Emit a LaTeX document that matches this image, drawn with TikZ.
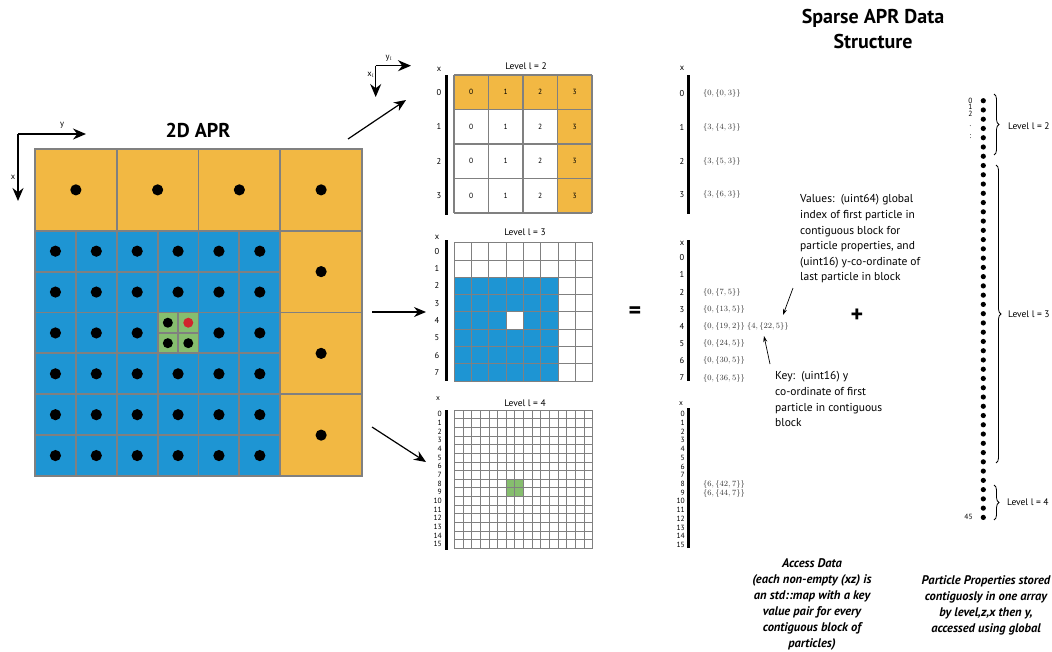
\documentclass[tikz,border=0pt]{standalone}
\usepackage[no-math]{fontspec}
\setmainfont{PT Sans}
\usetikzlibrary{arrows.meta,decorations.pathreplacing}

\begin{document}
\begin{tikzpicture}[x=1pt,y=-1pt,
    axisarrow/.style={line width=1.4pt, -{Stealth[length=13pt,width=11pt]}},
    linkarrow/.style={line width=1.2pt, -{Stealth[length=12pt,width=10pt]}},
    notearrow/.style={line width=0.7pt, -{Stealth[length=6pt,width=4pt]}},
    rowlab/.style={font=\fontsize{8.5}{9}\selectfont, inner sep=0pt},
    tinylab/.style={font=\fontsize{7.5}{8}\selectfont, inner sep=0pt},
    cellnum/.style={font=\fontsize{7.5}{8}\selectfont, inner sep=0pt},
    lvltitle/.style={font=\fontsize{9.5}{10}\selectfont, inner sep=0pt},
    entry/.style={anchor=west, inner sep=0pt, font=\fontsize{8.5}{9}\selectfont, text=black!80},
    accessbar/.style={line width=3pt},
    explain/.style={align=left, anchor=north west, inner sep=0pt, font=\fontsize{11.5}{15.6}\selectfont},
    caption/.style={align=center, anchor=north, inner sep=0pt, font=\fontsize{12.5}{16}\selectfont\bfseries\itshape},
    heading/.style={font=\fontsize{20}{25}\selectfont\bfseries, inner sep=0pt, align=center},
    bigsign/.style={font=\fontsize{24}{24}\selectfont\bfseries, inner sep=0pt}]
    % Define colors
    \definecolor{aprorange}{RGB}{242,184,67}
    \definecolor{aprblue}{RGB}{30,149,211}
    \definecolor{aprgreen}{RGB}{134,190,110}
    \definecolor{aprred}{RGB}{208,38,46}
    \definecolor{gridgray}{RGB}{128,128,128}

    \useasboundingbox (0,0) rectangle (1052,651);

    % Axes of the 2D APR
    \coordinate (axO) at (18,134);
    \coordinate (axY) at (86,134);
    \coordinate (axX) at (18,201);
    \draw[axisarrow] (axO) -- (axY);
    \draw[axisarrow] (axO) -- (axX);
    \node[rowlab] (axYlab) at (62,125) {y};
    \node[rowlab] (axXlab) at (13,177) {x};

    \node[heading] (aprtitle) at (198,130) {2D APR};

    % Fill the 2D APR cells
    \fill[aprorange] (35,149) rectangle (362,476);
    \fill[aprblue] (35,230.75) rectangle (280.25,476);
    \foreach \i in {0,...,5}
        \foreach \j in {2,...,7}
            \fill ({35+40.875*(\i+0.5)},{149+40.875*(\j+0.5)}) circle (5.6);
    \fill[aprgreen] (157.625,312.5) rectangle (198.5,353.375);

    % Particles of the orange cells
    \foreach \i in {0,...,3}
        \fill ({35+81.75*(\i+0.5)},189.875) circle (5.6);
    \foreach \j in {1,2,3}
        \fill (321.125,{149+81.75*(\j+0.5)}) circle (5.6);

    % Particles of the green cells
    \fill (167.84,322.72) circle (5);
    \fill[aprred] (188.28,322.72) circle (5);
    \fill (167.84,343.16) circle (5);
    \fill (188.28,343.16) circle (5);

    % Grid lines
    \draw[gridgray, line width=1.8pt] (35,149) rectangle (362,476);
    \draw[gridgray, line width=1.8pt] (35,230.75) -- (362,230.75);
    \draw[gridgray, line width=1.8pt] (280.25,149) -- (280.25,476);
    \draw[gridgray, line width=1.8pt] (116.75,149) -- (116.75,230.75);
    \draw[gridgray, line width=1.8pt] (198.5,149) -- (198.5,230.75);
    \foreach \i in {1,...,5}
        \draw[gridgray, line width=1.8pt] ({35+40.875*\i},230.75) -- ({35+40.875*\i},476);
    \foreach \j in {3,5,7}
        \draw[gridgray, line width=1.8pt] (35,{149+40.875*\j}) -- (280.25,{149+40.875*\j});
    \foreach \j in {4,6}
        \draw[gridgray, line width=1.8pt] (35,{149+40.875*\j}) -- (362,{149+40.875*\j});
    \draw[gridgray, line width=1.3pt] (178.06,312.5) -- (178.06,353.375);
    \draw[gridgray, line width=1.3pt] (157.625,332.94) -- (198.5,332.94);

    % Axes of one level
    \coordinate (lvO) at (375.7,65.7);
    \coordinate (lvY) at (411,65.7);
    \coordinate (lvX) at (375.7,97);
    \draw[axisarrow] (lvO) -- (lvY);
    \draw[axisarrow] (lvO) -- (lvX);
    \node[rowlab] (lvYlab) at (389,58) {y$_{\scriptscriptstyle l}$};
    \node[rowlab] (lvXlab) at (371,75) {x$_{\scriptscriptstyle l}$};

    % Connectors to the levels
    \coordinate (aprTop) at (348,139);
    \coordinate (aprMid) at (372,312);
    \coordinate (aprLow) at (372,427);
    \coordinate (lvtwoIn) at (406,100);
    \coordinate (lvthreeIn) at (426,312);
    \coordinate (lvfourIn) at (426,462);
    \draw[linkarrow] (aprTop) -- (lvtwoIn);
    \draw[linkarrow] (aprMid) -- (lvthreeIn);
    \draw[linkarrow] (aprLow) -- (lvfourIn);

    % Level l = 2
    \node[lvltitle] (lvtwo) at (526,66) {Level l = 2};
    \fill[aprorange] (454,75) rectangle (592,109.5);
    \fill[aprorange] (557.5,75) rectangle (592,213);
    \foreach \i in {0,...,4} {
        \draw[gridgray, line width=1.2pt] ({454+34.5*\i},75) -- ({454+34.5*\i},213);
        \draw[gridgray, line width=1.2pt] (454,{75+34.5*\i}) -- (592,{75+34.5*\i});
    }
    \foreach \r in {0,...,3} {
        \foreach \c in {0,...,3}
            \node[cellnum] (lvtwo-\r-\c) at ({471.25+34.5*\c},{92.25+34.5*\r}) {\c};
        \node[rowlab] (lvtwo-x\r) at (439,{92.25+34.5*\r}) {\r};
    }
    \node[rowlab] (lvtwo-x) at (439,69) {x};
    \draw[accessbar] (446.5,75) -- (446.5,215);

    % Level l = 3
    \node[lvltitle] (lvthree) at (525,232) {Level l = 3};
    \fill[aprblue] (454.3,277.3) rectangle (558.1,380.7);
    \fill[white] (506.2,311.9) rectangle (523.5,329.2);
    \foreach \i in {0,...,8} {
        \draw[gridgray, line width=1pt] ({454.3+17.3*\i},242.7) -- ({454.3+17.3*\i},381.1);
        \draw[gridgray, line width=1pt] (454.3,{242.7+17.3*\i}) -- (592.7,{242.7+17.3*\i});
    }
    \foreach \r in {0,...,7}
        \node[rowlab] (lvthree-x\r) at (437,{251.35+17.3*\r}) {\r};
    \node[rowlab] (lvthree-x) at (437,237.5) {x};
    \draw[accessbar] (446,240) -- (446,381);

    % Level l = 4
    \node[lvltitle] (lvfour) at (525,403) {Level l = 4};
    \fill[aprgreen] (506.2,479.2) rectangle (523.5,496.5);
    \foreach \i in {0,...,16} {
        \draw[gridgray, line width=0.8pt] ({454.3+8.65*\i},410) -- ({454.3+8.65*\i},548.4);
        \draw[gridgray, line width=0.8pt] (454.3,{410+8.65*\i}) -- (592.7,{410+8.65*\i});
    }
    \foreach \r in {0,...,15}
        \node[tinylab, anchor=east] (lvfour-x\r) at (442,{414.3+8.65*\r}) {\r};
    \node[tinylab] (lvfour-x) at (438,399) {x};
    \draw[accessbar] (446,410) -- (446,550);

    \node[bigsign] (equals) at (635,313) {=};

    % Access data, level l = 2
    \node[rowlab] (accA-x) at (682,68) {x};
    \draw[accessbar] (688.3,75) -- (688.3,214);
    \foreach \r/\val in {0/{0,\{0,3\}},1/{3,\{4,3\}},2/{3,\{5,3\}},3/{3,\{6,3\}}} {
        \node[rowlab] (accA-x\r) at (682,{93.5+33.8*\r}) {\r};
        \node[entry] (accA-e\r) at (703,{93.5+33.8*\r}) {$\{\val\}$};
    }

    % Access data, level l = 3
    \node[rowlab] (accB-x) at (682,243) {x};
    \draw[accessbar] (688.3,240) -- (688.3,381);
    \foreach \r in {0,...,7}
        \node[rowlab] (accB-x\r) at (682,{257.6+17.2*\r}) {\r};
    \node[entry] (accB-e2) at (703,292) {$\{0,\{7,5\}\}$};
    \node[entry] (accB-e3) at (703,309.2) {$\{0,\{13,5\}\}$};
    \node[entry] (accB-e4) at (703,326.4) {$\{0,\{19,2\}\}\ \{4,\{22,5\}\}$};
    \node[entry] (accB-e5) at (703,343.6) {$\{0,\{24,5\}\}$};
    \node[entry] (accB-e6) at (703,360.8) {$\{0,\{30,5\}\}$};
    \node[entry] (accB-e7) at (703,378) {$\{0,\{36,5\}\}$};

    % Access data, level l = 4
    \node[tinylab] (accC-x) at (681,404) {x};
    \draw[accessbar] (688.3,408) -- (688.3,548);
    \foreach \r in {0,...,15}
        \node[tinylab, anchor=east] (accC-x\r) at (685,{414+8.73*\r}) {\r};
    \node[entry] (accC-e8) at (703,484.8) {$\{6,\{42,7\}\}$};
    \node[entry] (accC-e9) at (703,493.5) {$\{6,\{44,7\}\}$};

    % Notes
    \node[explain] (values) at (800,194.5) {Values:\ \ (uint64) global\\index of first particle in\\contiguous block for\\particle properties, and\\(uint16) y-co-ordinate of\\last particle in block};
    \coordinate (valuesFrom) at (793,288);
    \coordinate (valuesTo) at (783,315);
    \draw[notearrow] (valuesFrom) -- (valuesTo);

    \node[explain] (key) at (775,371.5) {Key:\ \ (uint16) y\\co-ordinate of first\\particle in contiguous\\block};
    \coordinate (keyFrom) at (770,364);
    \coordinate (keyTo) at (764,336);
    \draw[notearrow] (keyFrom) -- (keyTo);

    \node[bigsign] (plus) at (857,316) {+};

    \node[caption] (access) at (812,558) {Access Data\\(each non-empty (xz) is\\an std::map with a key\\value pair for every\\contiguous block of\\particles)};

    % Particle properties
    \node[heading] (sparse) at (873,29) {Sparse APR Data\\Structure};
    \foreach \i in {0,...,45}
        \fill (983.3,{100.7+9.26*\i}) circle (2.6);
    \node[tinylab] (pp-0) at (970.5,100.7) {0};
    \node[tinylab] (pp-1) at (970.5,107.3) {1};
    \node[tinylab] (pp-2) at (970.5,114) {2};
    \node[tinylab] (pp-3) at (970.5,126) {.};
    \node[tinylab] (pp-4) at (970.5,137) {:};
    \node[tinylab] (pp-45) at (968.5,517.3) {45};

    \draw[decorate, decoration={brace, amplitude=5pt}, line width=0.8pt] (994,94) -- (994,155);
    \node[lvltitle, anchor=west] (pplvtwo) at (1008,126) {Level l = 2};
    \draw[decorate, decoration={brace, amplitude=5pt}, line width=0.8pt] (996,165) -- (996,463);
    \node[lvltitle, anchor=west] (pplvthree) at (1008,314) {Level l = 3};
    \draw[decorate, decoration={brace, amplitude=5pt}, line width=0.8pt] (994,485) -- (994,520);
    \node[lvltitle, anchor=west] (pplvfour) at (1007,502) {Level l = 4};

    \node[caption] (props) at (986,575) {Particle Properties stored\\contiguosly in one array\\by level,z,x then y,\\accessed using global};
\end{tikzpicture}
\end{document}
